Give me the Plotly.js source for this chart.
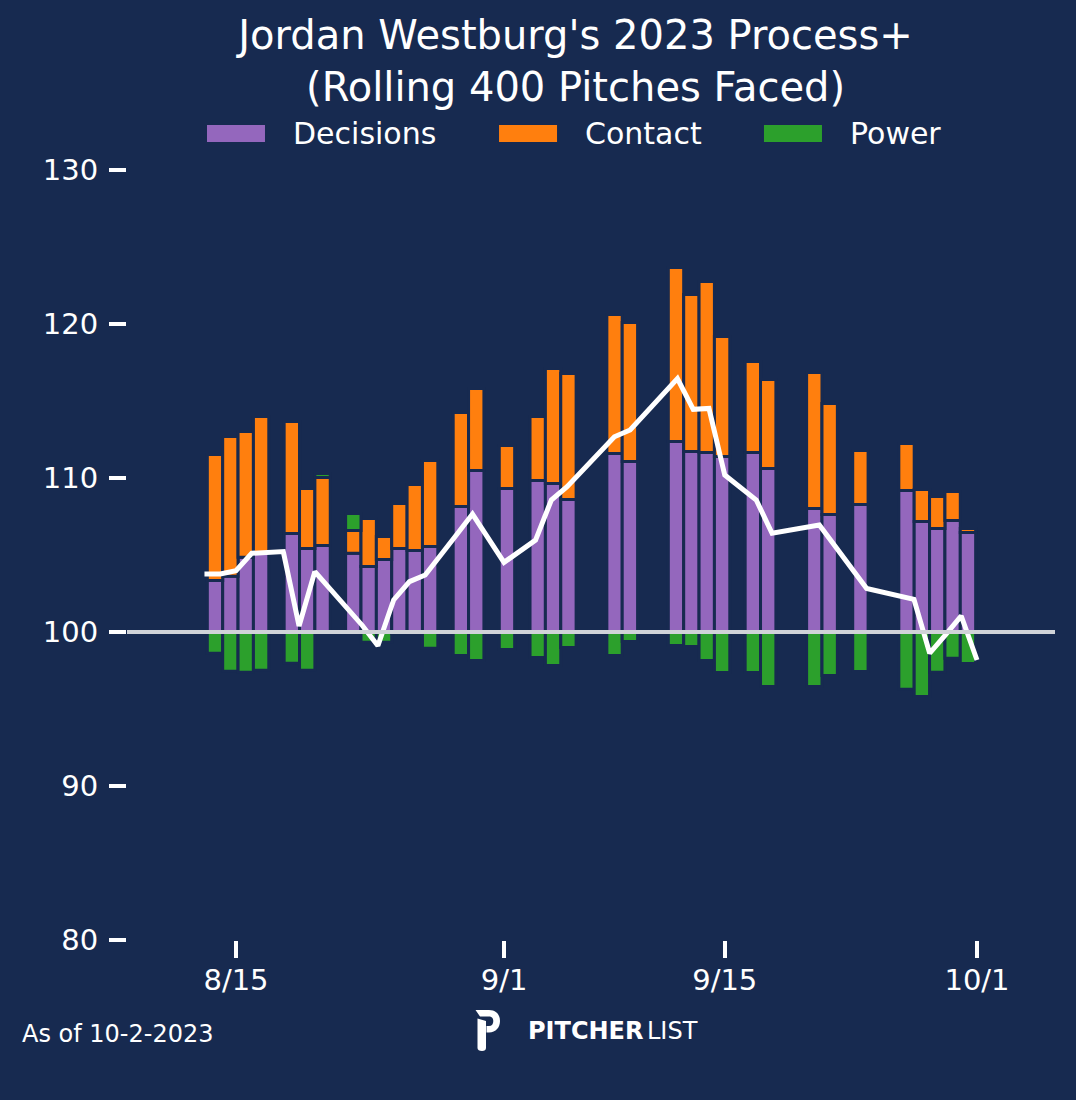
<!DOCTYPE html>
<html>
<head>
<meta charset="utf-8">
<script src="https://cdn.plot.ly/plotly-3.0.1.min.js"></script>
<style>
  html, body { margin: 0; padding: 0; background: #172a50; }
  #chart { width: 1076px; height: 1100px; }
</style>
</head>
<body>
<div id="chart"></div>
<script>
// ---- Data ----
const dates = ['2023-08-13','2023-08-14','2023-08-15','2023-08-16','2023-08-18','2023-08-19','2023-08-20',
  '2023-08-22','2023-08-23','2023-08-24','2023-08-25','2023-08-26','2023-08-27','2023-08-29','2023-08-30',
  '2023-09-01','2023-09-03','2023-09-04','2023-09-05','2023-09-08','2023-09-09','2023-09-12','2023-09-13',
  '2023-09-14','2023-09-15','2023-09-17','2023-09-18','2023-09-21','2023-09-22','2023-09-24','2023-09-27',
  '2023-09-28','2023-09-29','2023-09-30','2023-10-01'];

const decisions = [103.35,103.62,104.85,105.10,106.40,105.43,105.62,105.11,104.25,104.71,105.43,105.29,105.55,
  108.15,110.49,109.32,109.84,109.64,108.60,111.59,111.07,112.37,111.72,111.66,111.40,111.66,110.62,108.02,
  107.63,108.28,109.19,107.18,106.72,107.24,106.46];

const contact = [108.18,109.07,108.17,108.89,107.27,103.89,104.41,101.48,103.12,101.49,102.91,104.29,105.59,
  106.10,105.32,102.79,104.15,107.47,108.19,109.03,109.03,111.30,110.20,111.10,107.79,105.90,105.78,108.83,
  107.21,103.51,103.05,102.07,102.08,101.88,100.26];

const power = [98.62,97.45,97.39,97.52,97.97,97.52,100.26,101.10,99.34,99.34,99.90,99.90,98.95,98.47,98.15,
  98.86,98.34,97.82,98.99,98.47,99.38,99.12,99.06,98.15,97.37,97.37,96.46,96.46,97.18,97.44,96.28,95.81,
  97.38,98.29,97.96];

const processPlus = [103.77,103.77,103.98,105.11,105.22,100.39,103.92,101.66,100.44,99.11,102.08,103.27,103.70,
  106.33,107.66,104.52,105.97,108.57,109.44,112.68,113.12,116.45,114.46,114.52,110.19,108.57,106.41,106.95,
  105.55,102.83,102.12,98.62,99.82,101.04,98.18];

const tickDates = ['2023-08-15','2023-09-01','2023-09-15','2023-10-01'];
const tickLabels = ['8/15','9/1','9/15','10/1'];
const yTicks = [80, 90, 100, 110, 120, 130];
const seriesNames = ['Decisions','Contact','Power'];

// ---- Styles ----
const BG = '#172a50';
const COLORS = {Decisions:'#9467bd', Contact:'#ff7f0e', Power:'#2ca02c'};
const FONT = 'DejaVu Sans, Verdana, sans-serif';
const DAY = 86400000;
const baseline = 100;

const barLine = {color: BG, width: 3};

const decBase = decisions.map(() => baseline);
const decLen = decisions.map(v => v - baseline);
const conBase = decisions.slice();
const conLen = contact.map(v => v - baseline);
const powBase = power.map((v, i) => v >= baseline ? decisions[i] + contact[i] - baseline : baseline);
const powLen = power.map(v => v - baseline);

const traces = [
  {type:'bar', name:'Decisions', x:dates, y:decLen, base:decBase, width:DAY, xaxis:'x', yaxis:'y',
   marker:{color:COLORS.Decisions, line:barLine}, showlegend:false, hoverinfo:'skip'},
  {type:'bar', name:'Contact', x:dates, y:conLen, base:conBase, width:DAY, xaxis:'x', yaxis:'y',
   marker:{color:COLORS.Contact, line:barLine}, showlegend:false, hoverinfo:'skip'},
  {type:'bar', name:'Power', x:dates, y:powLen, base:powBase, width:DAY, xaxis:'x', yaxis:'y',
   marker:{color:COLORS.Power, line:barLine}, showlegend:false, hoverinfo:'skip'},
  {type:'scatter', mode:'lines', name:'Process+', x:dates, y:processPlus, xaxis:'x2', yaxis:'y',
   line:{color:'#ffffff', width:5}, showlegend:false, hoverinfo:'skip'}
];

// custom legend (wide patches like the original)
const legendPatchX = [[0.0862,0.1487],[0.4009,0.4634],[0.6864,0.7489]];
const legendTextX = [0.1767,0.4914,0.7769];
const shapes = [
  {type:'line', xref:'paper', x0:0, x1:1, yref:'y', y0:baseline, y1:baseline,
   line:{color:'#d0d3d8', width:4}, layer:'above'}
];
const annotations = [];
seriesNames.forEach((n, i) => {
  shapes.push({type:'rect', xref:'paper', yref:'paper', x0:legendPatchX[i][0], x1:legendPatchX[i][1],
    y0:1.0364, y1:1.0584, fillcolor:COLORS[n], line:{width:0}});
  annotations.push({xref:'paper', yref:'paper', x:legendTextX[i], y:1.0468, xanchor:'left', yanchor:'middle',
    text:n, showarrow:false, font:{family:FONT, size:30, color:'#ffffff'}});
});
annotations.push({xref:'paper', yref:'paper', x:-0.1153, y:-0.1221, xanchor:'left', yanchor:'middle',
  text:'As of 10-2-2023', showarrow:false, font:{family:FONT, size:24, color:'#ffffff'}});
annotations.push({xref:'paper', yref:'paper', x:0.4300, y:-0.1182, xanchor:'left', yanchor:'middle',
  text:'<b>PITCHER</b>', showarrow:false, font:{family:FONT, size:24, color:'#ffffff'}});
annotations.push({xref:'paper', yref:'paper', x:0.5585, y:-0.1182, xanchor:'left', yanchor:'middle',
  text:'LIST', showarrow:false, font:{family:'DejaVu Sans ExtraLight, DejaVu Sans, sans-serif', size:24, color:'#ffffff'}});

const logoSvg = '<svg xmlns="http://www.w3.org/2000/svg" width="25" height="42" viewBox="0 0 25 42">' +
  '<path fill="white" d="M0.5,1 L14,1 C21,1 25,5.5 25,12 C25,18.5 21,23.5 14,23.5 L11.5,23.5 L11.5,17 L14,17 C16.8,17 18.3,15 18.3,12 C18.3,9.2 16.8,7.5 14,7.5 L5,7.5 Z"/>' +
  '<path fill="white" d="M2.5,9.5 L11,12 L11,39 C11,41 9.5,42 7,42 C4.3,42 2.5,41 2.5,39 Z"/></svg>';

const layout = {
  width:1076, height:1100,
  paper_bgcolor:BG, plot_bgcolor:BG,
  margin:{l:127, r:21, t:170, b:160, pad:0},
  barmode:'overlay',
  showlegend:false,
  font:{family:FONT, color:'#ffffff'},
  title:{text:"Jordan Westburg's 2023 Process+<br>(Rolling 400 Pitches Faced)",
    font:{family:FONT, size:40, color:'#ffffff'},
    xref:'container', yref:'container', x:0.5349, xanchor:'center', y:0.9555, yanchor:'middle'},
  xaxis:{type:'date', range:['2023-08-07 06:33','2023-10-06 15:55'], visible:false, fixedrange:true},
  xaxis2:{type:'date', overlaying:'x', anchor:'y', side:'bottom',
    range:['2023-08-08 02:04','2023-10-05 22:44'],
    tickmode:'array', tickvals:tickDates, ticktext:tickLabels,
    ticks:'outside', ticklen:17, tickwidth:3.5, tickcolor:'#ffffff',
    tickfont:{family:FONT, size:29, color:'#ffffff'}, ticklabelstandoff:-3,
    showgrid:false, zeroline:false, showline:false},
  yaxis:{range:[80,130], tickmode:'array', tickvals:yTicks, ticktext:yTicks.map(String),
    ticks:'outside', ticklen:17, tickwidth:3.5, tickcolor:'#ffffff',
    tickfont:{family:FONT, size:29, color:'#ffffff'}, ticklabelstandoff:5,
    showgrid:false, zeroline:false, showline:false},
  shapes:shapes,
  annotations:annotations,
  images:[{source:'data:image/svg+xml;charset=utf-8,' + encodeURIComponent(logoSvg),
    xref:'paper', yref:'paper', x:0.375, y:-0.0896, sizex:0.02694, sizey:0.05455,
    xanchor:'left', yanchor:'top', sizing:'stretch', layer:'above'}]
};

Plotly.newPlot('chart', traces, layout, {staticPlot:true, displayModeBar:false});
</script>
</body>
</html>
